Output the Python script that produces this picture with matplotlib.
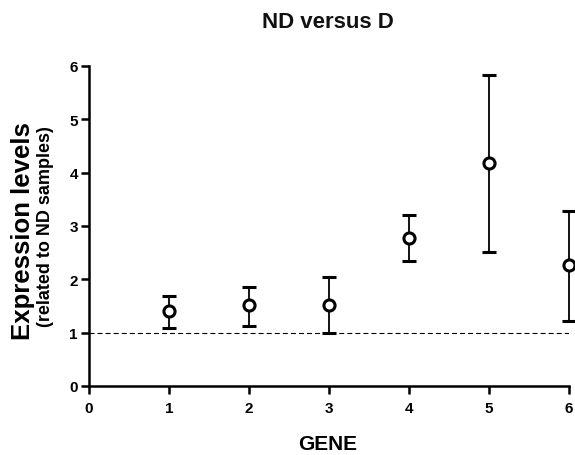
import matplotlib
matplotlib.use("Agg")
import matplotlib.pyplot as plt
import numpy as np

# values
genes = [1, 2, 3, 4, 5, 6]
means = [1.41, 1.51, 1.52, 2.78, 4.18, 2.26]
upper = [1.69, 1.86, 2.04, 3.21, 5.83, 3.29]
lower = [1.09, 1.12, 1.00, 2.34, 2.51, 1.22]
ticks = [0, 1, 2, 3, 4, 5, 6]
baseline = 1.0

plt.rcParams['font.family'] = ['Liberation Sans', 'DejaVu Sans']
plt.rcParams['lines.scale_dashes'] = False

fig = plt.figure(figsize=(5.75, 4.56), dpi=100)
axis = fig.add_axes([89 / 575, 1 - 387 / 456, 480 / 575, 320 / 456])

# reference line at 1 (ND level)
axis.plot([0, 6], [baseline, baseline], color='black', linewidth=0.8,
          dashes=(3.6, 2.2), zorder=1)

# mean with asymmetric error bars
means_arr = np.array(means)
yerr = [means_arr - np.array(lower), np.array(upper) - means_arr]
axis.errorbar(genes, means, yerr=yerr, fmt='o', color='black',
              ecolor='black', elinewidth=1.3, capsize=5, capthick=1.0,
              markersize=8, markerfacecolor='white',
              markeredgecolor='black', markeredgewidth=2.2,
              clip_on=False, zorder=3)

axis.set_xlim(0, 6)
axis.set_ylim(0, 6)
axis.set_xticks(ticks)
axis.set_yticks(ticks)
axis.spines['top'].set_visible(False)
axis.spines['right'].set_visible(False)
for side in ['left', 'bottom']:
    axis.spines[side].set_linewidth(1.8)
axis.tick_params(axis='both', width=1.8, length=6, labelsize=11)
axis.tick_params(axis='x', pad=5)
axis.tick_params(axis='y', pad=2)
for lab in axis.get_xticklabels() + axis.get_yticklabels():
    lab.set_fontweight('bold')

fig.text(328 / 575, 1 - 22 / 456, "ND versus D", ha='center', va='center',
         fontsize=16, fontweight='bold', color='#111111')
fig.text(328 / 575, 1 - 445 / 456, "GENE", ha='center', va='center',
         fontsize=15, fontweight='bold')
fig.text(23 / 575, 1 - 231 / 456, "Expression levels", ha='center',
         va='center', rotation=90, fontsize=18.5, fontweight='bold')
fig.text(46 / 575, 1 - 227 / 456, "(related to ND samples)", ha='center',
         va='center', rotation=90, fontsize=13, fontweight='bold')

fig.savefig("out.png", dpi=100)
